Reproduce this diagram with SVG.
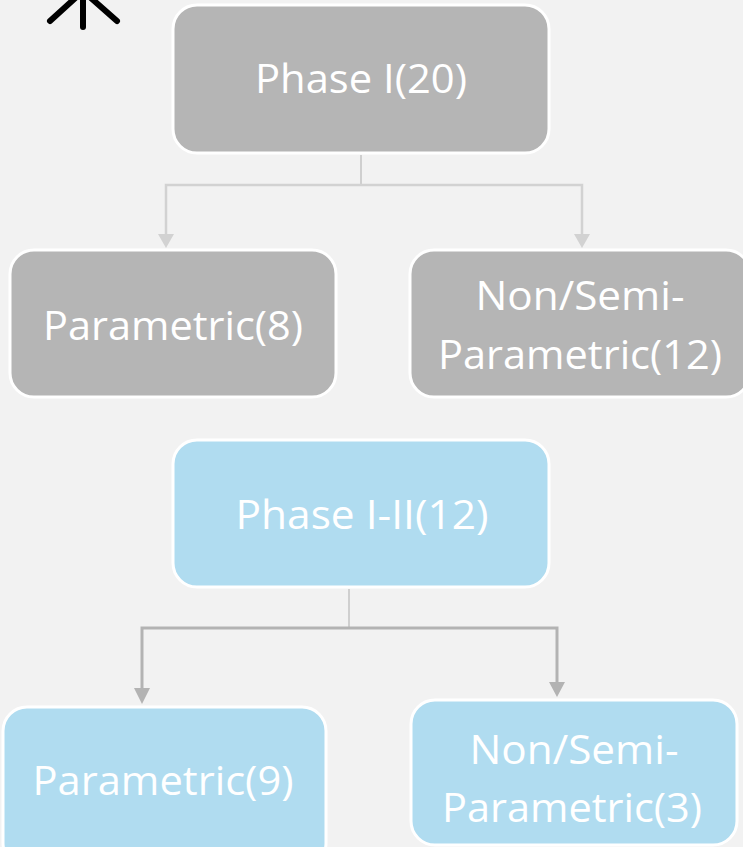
<svg xmlns="http://www.w3.org/2000/svg" width="743" height="847" viewBox="0 0 743 847">
  <defs>
    <style>
      .grey { fill: #b5b5b5; stroke: #ffffff; stroke-width: 3; }
      .blue { fill: #b0dcf0; stroke: #ffffff; stroke-width: 3; }
      .lbl { fill: #ffffff; font-family: "Open Sans", "Noto Sans", "Liberation Sans", sans-serif; font-size: 40px; text-anchor: middle; }
      .c1 { fill: none; stroke: #d2d2d2; stroke-width: 2.5; }
      .c2 { fill: none; stroke: #b3b3b3; stroke-width: 3; }
      .stem { stroke: #b8b8b8; stroke-width: 1.2; }
    </style>
  </defs>
  <rect width="743" height="847" fill="#f2f2f2"/>

  <!-- partial icon at top left -->
  <g id="icon" stroke="#000000" stroke-width="6" stroke-linecap="round" stroke-linejoin="round" fill="none">
    <polyline points="50,21 83,-9 117,21"/>
    <line x1="83" y1="-5" x2="83" y2="27"/>
  </g>

  <g id="connectors">
    <line class="stem" x1="361" y1="155" x2="361" y2="185"/>
    <path class="c1" d="M166,240 V185 H582 V240"/>
    <path d="M158,234 L174,234 L166,248 z" fill="#d2d2d2"/>
    <path d="M574,234 L590,234 L582,248 z" fill="#d2d2d2"/>

    <line class="stem" x1="349" y1="589" x2="349" y2="628"/>
    <path class="c2" d="M142,690 V628 H557 V684"/>
    <path d="M134,688 L150,688 L142,704 z" fill="#b3b3b3"/>
    <path d="M549,682 L565,682 L557,697 z" fill="#b3b3b3"/>
  </g>

  <g id="phase1">
    <rect class="grey" x="173" y="5" width="376" height="148" rx="24"/>
    <text class="lbl" x="361" y="93" textLength="212" lengthAdjust="spacingAndGlyphs">Phase I(20)</text>
  </g>
  <g id="phase1-param">
    <rect class="grey" x="10" y="250" width="326" height="147" rx="24"/>
    <text class="lbl" x="173" y="340" textLength="260" lengthAdjust="spacingAndGlyphs">Parametric(8)</text>
  </g>
  <g id="phase1-nonparam">
    <rect class="grey" x="410" y="250" width="340" height="147" rx="24"/>
    <text class="lbl" x="580" y="310" textLength="209" lengthAdjust="spacingAndGlyphs">Non/Semi-</text>
    <text class="lbl" x="580" y="369" textLength="284" lengthAdjust="spacingAndGlyphs">Parametric(12)</text>
  </g>

  <g id="phase12">
    <rect class="blue" x="173" y="440" width="376" height="147" rx="24"/>
    <text class="lbl" x="362" y="529" textLength="253" lengthAdjust="spacingAndGlyphs">Phase I-II(12)</text>
  </g>
  <g id="phase12-param">
    <rect class="blue" x="3" y="707" width="323" height="160" rx="24"/>
    <text class="lbl" x="163" y="795" textLength="261" lengthAdjust="spacingAndGlyphs">Parametric(9)</text>
  </g>
  <g id="phase12-nonparam">
    <rect class="blue" x="411" y="700" width="326" height="145" rx="24"/>
    <text class="lbl" x="574" y="764" textLength="209" lengthAdjust="spacingAndGlyphs">Non/Semi-</text>
    <text class="lbl" x="572" y="822" textLength="260" lengthAdjust="spacingAndGlyphs">Parametric(3)</text>
  </g>
</svg>
